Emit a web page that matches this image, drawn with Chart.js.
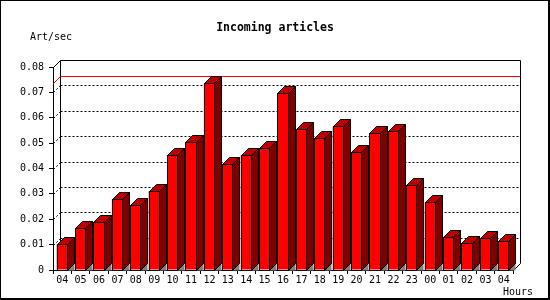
<!DOCTYPE html>
<html><head><meta charset="utf-8">
<script src="https://cdn.jsdelivr.net/npm/chart.js@4.4.0/dist/chart.umd.min.js"></script>
<style>html,body{margin:0;padding:0;background:#fff;}canvas{display:block;}</style>
</head><body>
<canvas id="c" width="550" height="300"></canvas>
<script>
const hours = ['04','05','06','07','08','09','10','11','12','13','14','15','16','17','18','19','20','21','22','23','00','01','02','03','04'];
const artPerSec = [0.0101,0.0164,0.0188,0.0279,0.0255,0.0310,0.0452,0.0503,0.0736,0.0416,0.0452,0.0480,0.0696,0.0554,0.0519,0.0566,0.0464,0.0539,0.0548,0.0334,0.0267,0.0129,0.0105,0.0125,0.0113];
const yTickLabels = ['0','0.01','0.02','0.03','0.04','0.05','0.06','0.07','0.08'];
const chartTitle = 'Incoming articles';
const yAxisTitle = 'Art/sec';
const xAxisTitle = 'Hours';

const D = 7;
const MONO = '"DejaVu Sans Mono", "Liberation Mono", monospace';

const threeD = {
  id: 'threeD',
  beforeDraw(chart) {
    const ctx = chart.ctx;
    ctx.save();
    ctx.fillStyle = '#fff';
    ctx.fillRect(0, 0, chart.width, chart.height);
    ctx.restore();
  },
  beforeDatasetsDraw(chart) {
    const {ctx, chartArea: a, scales: {y}} = chart;
    ctx.save();
    ctx.lineWidth = 1;
    ctx.strokeStyle = '#000';
    ctx.setLineDash([2, 2]);
    y.ticks.forEach(t => {
      if (t.value <= y.min || t.value >= y.max) return;
      const py = Math.round(y.getPixelForValue(t.value)) + 0.5;
      ctx.beginPath();
      ctx.moveTo(a.left + D + 0.5, py - D);
      ctx.lineTo(a.right + D + 0.5, py - D);
      ctx.moveTo(a.left + 0.5, py);
      ctx.lineTo(a.left + D + 0.5, py - D);
      ctx.stroke();
    });
    ctx.setLineDash([]);
    const top = Math.round(a.top) + 0.5, bot = Math.round(a.bottom) + 0.5;
    const l = Math.round(a.left) + 0.5, r = Math.round(a.right) + 0.5;
    ctx.beginPath();
    ctx.moveTo(l, top);
    ctx.lineTo(l + D, top - D);
    ctx.lineTo(r + D, top - D);
    ctx.lineTo(r + D, bot - D);
    ctx.lineTo(r, bot);
    ctx.moveTo(l + D, top - D);
    ctx.lineTo(l + D, bot - D);
    ctx.stroke();
    const vmax = Math.max(...artPerSec);
    const pm = Math.round(y.getPixelForValue(vmax)) + 0.5;
    ctx.strokeStyle = '#ff0000';
    ctx.beginPath();
    ctx.moveTo(l, pm);
    ctx.lineTo(l + D, pm - D);
    ctx.lineTo(r + D, pm - D);
    ctx.stroke();
    ctx.restore();
  },
  afterDatasetsDraw(chart) {
    const ctx = chart.ctx;
    const meta = chart.getDatasetMeta(0);
    ctx.save();
    ctx.lineWidth = 1;
    ctx.strokeStyle = '#000';
    meta.data.forEach(el => {
      const p = el.getProps(['x', 'y', 'base', 'width'], true);
      const L = Math.round(p.x - p.width / 2) + 0.5;
      const R = Math.round(p.x + p.width / 2) - 0.5;
      const T = Math.round(p.y) + 0.5;
      const B = Math.round(p.base) + 0.5;
      ctx.fillStyle = '#808080';
      ctx.beginPath();
      ctx.moveTo(R, B); ctx.lineTo(R + D, B - D); ctx.lineTo(R + D, B); ctx.closePath();
      ctx.fill();
      ctx.fillStyle = '#800000';
      ctx.beginPath();
      ctx.moveTo(R, T); ctx.lineTo(R + D, T - D); ctx.lineTo(R + D, B - D); ctx.lineTo(R, B); ctx.closePath();
      ctx.fill(); ctx.stroke();
      ctx.fillStyle = '#c00000';
      ctx.beginPath();
      ctx.moveTo(L, T); ctx.lineTo(L + D, T - D); ctx.lineTo(R + D, T - D); ctx.lineTo(R, T); ctx.closePath();
      ctx.fill(); ctx.stroke();
      ctx.strokeRect(L, T, R - L, B - T);
    });
    ctx.restore();
  },
  afterDraw(chart) {
    const ctx = chart.ctx;
    ctx.save();
    ctx.fillStyle = '#000';
    ctx.font = '10px ' + MONO;
    ctx.textBaseline = 'middle';
    ctx.textAlign = 'left';
    ctx.fillText(yAxisTitle, 30, 37.5);
    ctx.textAlign = 'right';
    ctx.fillText(xAxisTitle, 533, 292);
    ctx.fillRect(0, 0, chart.width, 1);
    ctx.fillRect(0, 0, 1, chart.height);
    ctx.fillRect(chart.width - 2, 0, 2, chart.height);
    ctx.fillRect(0, chart.height - 2, chart.width, 2);
    ctx.restore();
  }
};

new Chart(document.getElementById('c'), {
  type: 'bar',
  data: {
    labels: hours,
    datasets: [{
      data: artPerSec,
      backgroundColor: '#ff0000',
      borderColor: '#000',
      borderWidth: 0,
      borderSkipped: false,
      barPercentage: 0.6,
      categoryPercentage: 1.0
    }]
  },
  options: {
    responsive: false,
    animation: false,
    devicePixelRatio: 1,
    layout: { padding: 0 },
    plugins: {
      legend: { display: false },
      tooltip: { enabled: false },
      title: {
        display: true,
        text: chartTitle,
        color: '#000',
        font: { family: MONO, size: 11.5, weight: 'bold', lineHeight: 1.2 },
        padding: { top: 21.1, bottom: 32.1 }
      }
    },
    scales: {
      x: {
        afterFit(s) { s.height = 30; },
        grid: { display: true, drawOnChartArea: false, color: '#000', tickLength: 4, offset: true },
        border: { display: true, color: '#000', width: 1 },
        ticks: { color: '#000', font: { family: MONO, size: 10 }, padding: 0, autoSkip: false, maxRotation: 0, minRotation: 0 }
      },
      y: {
        min: 0, max: 0.08,
        afterFit(s) { s.width = 53; },
        grid: { display: true, drawOnChartArea: false, color: '#000', tickLength: 4 },
        border: { display: true, color: '#000', width: 1 },
        ticks: {
          stepSize: 0.01,
          color: '#000',
          font: { family: MONO, size: 10 },
          padding: 5,
          callback: (v, i) => yTickLabels[i]
        }
      },
      spacer: {
        type: 'linear',
        position: 'right',
        min: 0, max: 1,
        afterFit(s) { s.width = 37; },
        grid: { display: false },
        border: { display: false },
        ticks: { display: false }
      }
    }
  },
  plugins: [threeD]
});
</script>
</body></html>
